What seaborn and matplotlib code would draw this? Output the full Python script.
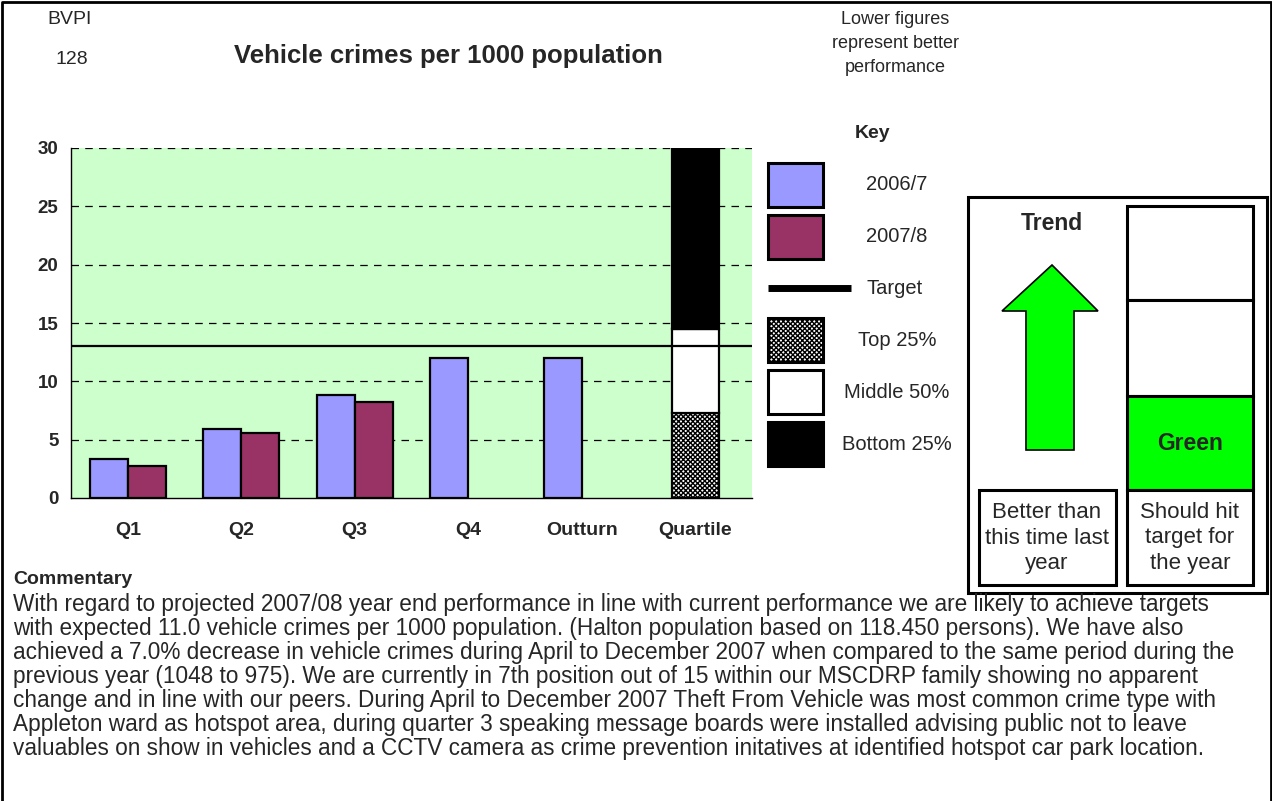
import numpy as np
import pandas as pd
import matplotlib
matplotlib.use("Agg")
import matplotlib.pyplot as plt
from matplotlib.patches import Rectangle, Polygon
import seaborn as sns

# ---- data -------------------------------------------------------------
categories = ["Q1", "Q2", "Q3", "Q4", "Outturn", "Quartile"]
years = ["2006/7", "2007/8"]
values_2006 = [3.3, 5.9, 8.8, 12.0, 12.0]
values_2007 = [2.7, 5.6, 8.2]
target = 13.0
quartile_bands = ["Top 25%", "Middle 50%", "Bottom 25%"]
quartile_edges = [0.0, 7.3, 14.5, 30.0]
y_ticks = [0, 5, 10, 15, 20, 25, 30]

title = "Vehicle crimes per 1000 population"
commentary = [
    "With regard to projected 2007/08 year end performance in line with current performance we are likely to achieve targets",
    "with expected 11.0 vehicle crimes per 1000 population. (Halton population based on 118.450 persons). We have also",
    "achieved a 7.0% decrease in vehicle crimes during April to December 2007 when compared to the same period during the",
    "previous year (1048 to 975). We are currently in 7th position out of 15 within our MSCDRP family showing no apparent",
    "change and in line with our peers. During April to December 2007 Theft From Vehicle was most common crime type with",
    "Appleton ward as hotspot area, during quarter 3 speaking message boards were installed advising public not to leave",
    "valuables on show in vehicles and a CCTV camera as crime prevention initatives at identified hotspot car park location.",
]

rows = []
for cat, v in zip(categories, values_2006):
    rows.append({"period": cat, "year": years[0], "value": v})
for cat, v in zip(categories, values_2007):
    rows.append({"period": cat, "year": years[1], "value": v})
df = pd.DataFrame(rows)

# ---- styling ----------------------------------------------------------
sns.set_style("white")
plt.rcParams["font.family"] = ["Liberation Sans", "DejaVu Sans"]
plt.rcParams["hatch.linewidth"] = 1.0

col_2006 = "#9999FF"
col_2007 = "#993366"
plot_bg = "#CCFFCC"
arrow_green = "#00FF00"
checker = "xxxxxxx"

W, H = 1272, 801
fig = plt.figure(figsize=(W / 100, H / 100), dpi=100)

# chart area in pixel terms
L, R, T, B = 71, 752, 148, 498
ax = fig.add_axes([L / W, 1 - B / H, (R - L) / W, (B - T) / H])
ax.set_facecolor(plot_bg)

sns.barplot(data=df, x="period", y="value", hue="year", order=categories,
            hue_order=years, palette=[col_2006, col_2007], width=0.67,
            saturation=1, edgecolor="black", linewidth=1.6, errorbar=None,
            legend=False, ax=ax, zorder=3)

# quartile stacked column
q_x = categories.index("Quartile")
q_faces = ["white", "white", "black"]
q_hatch = [checker, None, None]
for i in range(3):
    ax.bar(q_x, quartile_edges[i + 1] - quartile_edges[i], bottom=quartile_edges[i],
           width=0.41, color=q_faces[i], edgecolor="black", linewidth=1.6,
           hatch=q_hatch[i], zorder=3)

ax.axhline(target, color="black", linewidth=1.6, zorder=4)

ax.set_ylim(0, 30)
ax.set_xlim(-0.5, len(categories) - 0.5)
ax.set_yticks(y_ticks)
ax.set_yticklabels([str(t) for t in y_ticks], fontweight="bold", fontsize=13.5)
for t in y_ticks[1:]:
    ax.axhline(t, color="black", linewidth=0.9, linestyle=(0, (6, 5)), zorder=1)

ax.set_xticks(range(len(categories)))
ax.set_xticklabels(categories, fontweight="bold", fontsize=14)
ax.set_xticks(np.arange(-0.5, len(categories) - 0.4, 1.0), minor=True)
ax.tick_params(axis="x", which="major", length=0, pad=17)
ax.tick_params(axis="x", which="minor", length=6, width=1, color="black", direction="out")
ax.tick_params(axis="y", length=6, width=1, color="black", direction="out", pad=3)
ax.set_xlabel("")
ax.set_ylabel("")
for side in ["top", "right"]:
    ax.spines[side].set_visible(False)
for side in ["left", "bottom"]:
    ax.spines[side].set_color("black")
    ax.spines[side].set_linewidth(1.0)

# ---- overlay in pixel coordinates for the surrounding panels ---------
ov = fig.add_axes([0, 0, 1, 1], zorder=10)
ov.set_xlim(0, W)
ov.set_ylim(H, 0)
ov.axis("off")
ov.patch.set_alpha(0)

# outer page frame
ov.plot([1.5, 1.5, W - 1.5, W - 1.5], [H, 1.5, 1.5, H], color="black", lw=2)

ov.text(70, 20, "BVPI", ha="center", va="center", fontsize=14)
ov.text(72, 59, "128", ha="center", va="center", fontsize=14)
ov.text(448, 56, title, ha="center", va="center", fontsize=18.5, fontweight="bold")
for y, s in zip([20, 43, 67], ["Lower figures", "represent better", "performance"]):
    ov.text(895, y, s, ha="center", va="center", fontsize=13)

# key
ov.text(873, 133, "Key", ha="center", va="center", fontsize=14, fontweight="bold")
key_rows = [
    (163, years[0], dict(facecolor=col_2006)),
    (215, years[1], dict(facecolor=col_2007)),
    (318, quartile_bands[0], dict(facecolor="white", hatch=checker)),
    (370, quartile_bands[1], dict(facecolor="white")),
    (422, quartile_bands[2], dict(facecolor="black")),
]
for y0, label, kw in key_rows:
    ov.add_patch(Rectangle((768, y0), 55, 44, edgecolor="black", linewidth=2.2, **kw))
    ov.text(897, y0 + 22, label, ha="center", va="center", fontsize=14.5)
ov.plot([768, 851], [288, 288], color="black", lw=5, solid_capstyle="butt")
ov.text(895, 288, "Target", ha="center", va="center", fontsize=14.5)

# trend / status panel
ov.add_patch(Rectangle((968, 197), 299, 396, fill=False, edgecolor="black", linewidth=2.2))
ov.text(1052, 223, "Trend", ha="center", va="center", fontsize=16.5, fontweight="bold")
ov.add_patch(Polygon([(1052, 265), (1098, 311), (1074, 311), (1074, 450),
                      (1026, 450), (1026, 311), (1002, 311)], closed=True,
                     facecolor=arrow_green, edgecolor="black", linewidth=1.2))
cell_edges = [206, 300, 396, 490, 585]
cell_faces = ["white", "white", arrow_green, "white"]
for i in range(4):
    ov.add_patch(Rectangle((1127, cell_edges[i]), 126, cell_edges[i + 1] - cell_edges[i],
                           facecolor=cell_faces[i], edgecolor="black", linewidth=2.2))
ov.text(1190, 443, "Green", ha="center", va="center", fontsize=16.5, fontweight="bold")
ov.add_patch(Rectangle((979, 490), 137, 95, facecolor="white", edgecolor="black", linewidth=2.2))
for y, a, b in zip([512, 538, 563], ["Better than", "this time last", "year"],
                   ["Should hit", "target for", "the year"]):
    ov.text(1047, y, a, ha="center", va="center", fontsize=16)
    ov.text(1190, y, b, ha="center", va="center", fontsize=16)

# commentary
ov.text(13, 580, "Commentary", ha="left", va="center", fontsize=14, fontweight="bold")
for i, line in enumerate(commentary):
    ov.text(13, 604 + i * 24, line, ha="left", va="center", fontsize=16.3)

fig.savefig("out.png", dpi=100)
